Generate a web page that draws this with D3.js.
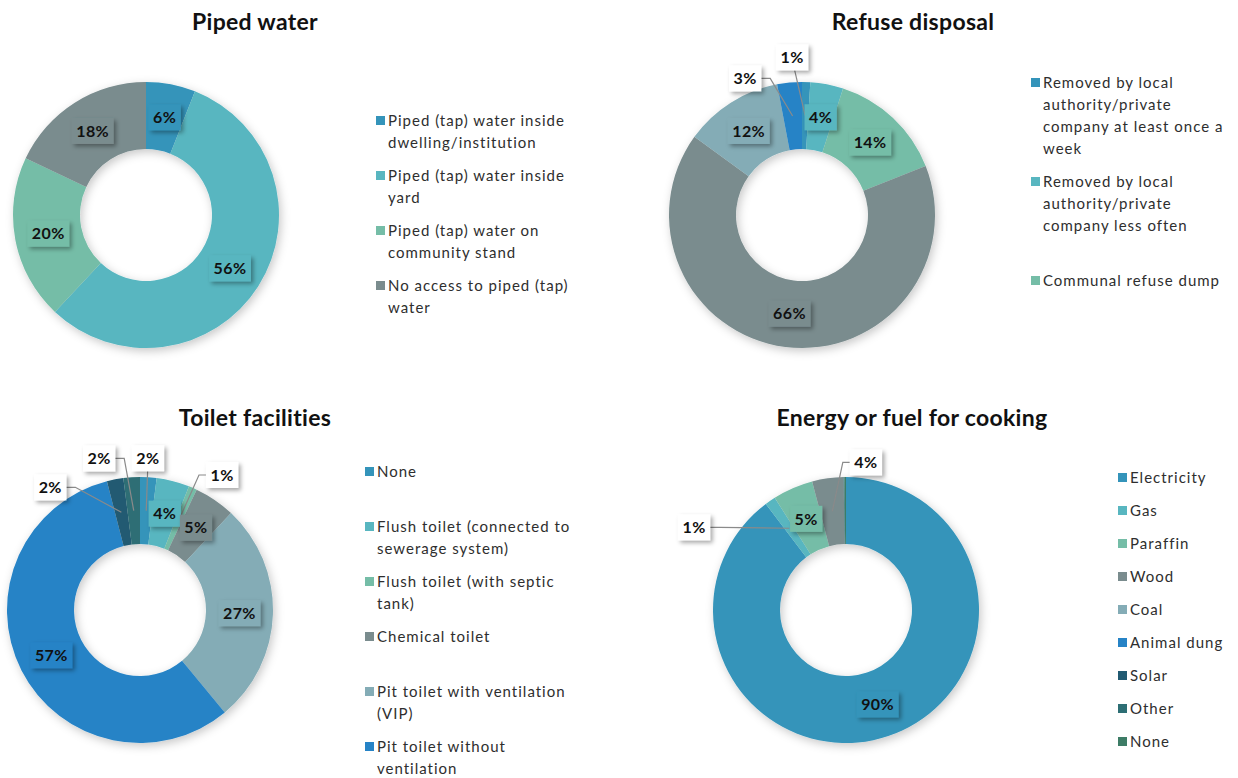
<!DOCTYPE html>
<html>
<head>
<meta charset="utf-8">
<script src="https://d3js.org/d3.v7.min.js"></script>
<style>
  body { margin: 0; background: #ffffff; }
  text { font-family: Lato, "Open Sans", sans-serif; }
  text.chart-title { font-size: 23px; font-weight: 700; fill: #111111; letter-spacing: 0.3px; }
  text.legend-text { font-size: 15px; fill: #2e2e2e; letter-spacing: 1px; }
  text.slice-label { font-size: 16px; font-weight: 700; fill: #111111; letter-spacing: 0.4px; }
</style>
</head>
<body>
<div id="container"></div>
<script>
// ---- data ----
const pipedCategories = ["Piped (tap) water inside dwelling/institution", "Piped (tap) water inside yard",
  "Piped (tap) water on community stand", "No access to piped (tap) water"];
const pipedValues = [6, 56, 20, 18];

const refuseCategories = ["Removed by local authority/private company at least once a week",
  "Removed by local authority/private company less often", "Communal refuse dump",
  "Own refuse dump", "No rubbish disposal", "Other"];
const refuseValues = [1, 4, 14, 66, 12, 3];

const toiletCategories = ["None", "Flush toilet (connected to sewerage system)", "Flush toilet (with septic tank)",
  "Chemical toilet", "Pit toilet with ventilation (VIP)", "Pit toilet without ventilation", "Bucket toilet", "Other"];
const toiletValues = [2, 4, 1, 5, 27, 57, 2, 2];

const energyCategories = ["Electricity", "Gas", "Paraffin", "Wood", "Coal", "Animal dung", "Solar", "Other", "None"];
const energyValues = [89.7, 1.3, 4.9, 3.8, 0, 0, 0, 0.1, 0.2];

const palette = ["#3494ba", "#58b6c0", "#75bda7", "#7a8c8e", "#84acb6", "#2683c6", "#215a72", "#2d6e74", "#3d7c66"];

// layout of the four panels (centre, legend, callout nudges: index -> [angle shift deg, radius])
const charts = [
  {title: "Piped water", cats: pipedCategories, vals: pipedValues,
   titleX: 255, titleY: 30, cx: 146, cy: 215, legX: 376, legY: 121, legStep: 55, legMax: 360, callouts: {}},
  {title: "Refuse disposal", cats: refuseCategories, vals: refuseValues,
   titleX: 913, titleY: 30, cx: 802, cy: 215, legX: 1031, legY: 83, legStep: 99, legMax: 360,
   callouts: {0: [-5.4, 158], 5: [-17.2, 148]}},
  {title: "Toilet facilities", cats: toiletCategories, vals: toiletValues,
   titleX: 255, titleY: 426, cx: 140, cy: 610, legX: 365, legY: 472, legStep: 55, legMax: 778,
   callouts: {0: [-0.6, 152], 2: [7.9, 158], 6: [-25.4, 152], 7: [-11.5, 157]}},
  {title: "Energy or fuel for cooking", cats: energyCategories, vals: energyValues,
   titleX: 912, titleY: 426, cx: 846, cy: 610, legX: 1118, legY: 478, legStep: 33, legMax: 778,
   callouts: {1: [-26.7, 173], 3: [15.6, 149]}}
];

const outerR = 133, innerR = 66, midR = (outerR + innerR) / 2;
const wrapWidth = 196, lineH = 22;

const svg = d3.select("#container").append("svg")
  .attr("width", 1238).attr("height", 778);

const defs = svg.append("defs");
defs.append("filter").attr("id", "ringShadow")
  .attr("x", "-20%").attr("y", "-20%").attr("width", "140%").attr("height", "140%")
  .append("feDropShadow").attr("dx", 2).attr("dy", 3).attr("stdDeviation", 5)
  .attr("flood-color", "#000").attr("flood-opacity", 0.22);
defs.append("filter").attr("id", "boxShadow")
  .attr("x", "-30%").attr("y", "-30%").attr("width", "170%").attr("height", "170%")
  .append("feDropShadow").attr("dx", 2.5).attr("dy", 2.5).attr("stdDeviation", 2)
  .attr("flood-color", "#000").attr("flood-opacity", 0.35);

const color = d3.scaleOrdinal().range(palette);
const pie = d3.pie().sort(null).value(d => d.v);
const arc = d3.arc().innerRadius(innerR).outerRadius(outerR);

function wrapLines(text, width) {
  const probe = svg.append("text").attr("class", "legend-text");
  const words = text.split(" ");
  const lines = [];
  let cur = "";
  words.forEach(w => {
    const test = cur ? cur + " " + w : w;
    probe.text(test);
    if (probe.node().getComputedTextLength() > width && cur) {
      lines.push(cur);
      cur = w;
    } else cur = test;
  });
  if (cur) lines.push(cur);
  probe.remove();
  return lines;
}

charts.forEach(c => {
  const data = c.cats.map((name, i) => ({name: name, v: c.vals[i], i: i}));
  const arcs = pie(data);

  // title
  svg.append("text").attr("class", "chart-title")
    .attr("x", c.titleX).attr("y", c.titleY)
    .attr("text-anchor", "middle").text(c.title);

  // ring
  const g = svg.append("g").attr("transform", `translate(${c.cx},${c.cy})`);
  g.append("g").attr("filter", "url(#ringShadow)")
    .selectAll("path").data(arcs).join("path")
      .attr("d", arc)
      .attr("fill", d => color(d.data.i));

  // labels
  const labelG = g.append("g");
  arcs.filter(d => d.data.v >= 0.5).forEach(d => {
    const mid = (d.startAngle + d.endAngle) / 2;
    const px = Math.sin(mid) * midR, py = -Math.cos(mid) * midR;
    const txt = Math.round(d.data.v) + "%";
    const callout = c.callouts[d.data.i];
    let lx = px, ly = py;
    if (callout) {
      const a = mid + callout[0] * Math.PI / 180;
      lx = Math.sin(a) * callout[1];
      ly = -Math.cos(a) * callout[1];
    }
    const lg = labelG.append("g");
    const t = lg.append("text").attr("class", "slice-label")
      .attr("x", lx).attr("y", ly).attr("dy", "0.36em")
      .attr("text-anchor", "middle").text(txt);
    const w = t.node().getComputedTextLength() + 9, h = 26;
    if (callout) {
      let pts;
      if (Math.abs(lx - px) < w / 2) {
        pts = [[lx + (px - lx) * 0.2, ly + h / 2], [px, py]];
      } else if (lx < px) {
        pts = [[lx + w / 2, ly], [lx + w / 2 + 9, ly], [px, py]];
      } else {
        pts = [[lx - w / 2, ly], [lx - w / 2 - 7, ly], [px, py]];
      }
      labelG.insert("path", ":first-child")
        .attr("d", d3.line()(pts))
        .attr("fill", "none").attr("stroke", "#8a8a8a").attr("stroke-width", 1.2);
    }
    lg.insert("rect", "text")
      .attr("x", lx - w / 2).attr("y", ly - h / 2)
      .attr("width", w).attr("height", h)
      .attr("fill", callout ? "#ffffff" : color(d.data.i))
      .attr("filter", "url(#boxShadow)");
  });

  // legend
  const leg = svg.append("g");
  data.forEach((d, k) => {
    const y0 = c.legY + k * c.legStep;
    if (y0 > c.legMax - 10) return;
    leg.append("rect")
      .attr("x", c.legX).attr("y", y0 - 5)
      .attr("width", 9).attr("height", 9)
      .attr("fill", color(d.i));
    const lines = wrapLines(d.name, wrapWidth);
    const t = leg.append("text").attr("class", "legend-text")
      .attr("x", c.legX + 12).attr("y", y0).attr("dy", "0.35em");
    lines.forEach((ln, j) => {
      t.append("tspan").attr("x", c.legX + 12).attr("dy", j === 0 ? "0.35em" : lineH).text(ln);
    });
  });
});
</script>
</body>
</html>
